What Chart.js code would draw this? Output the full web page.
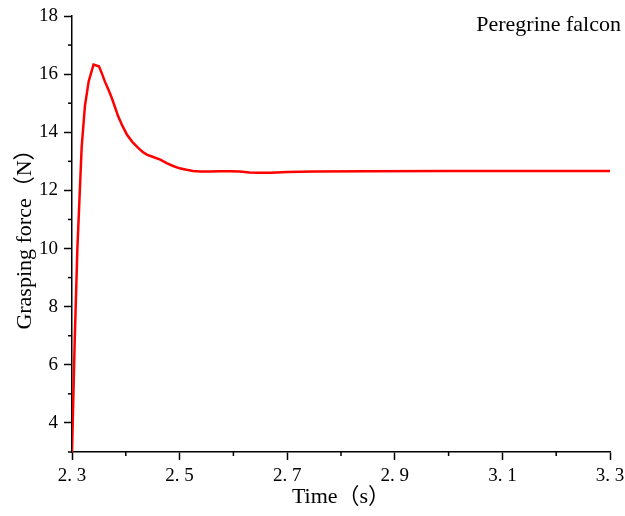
<!DOCTYPE html>
<html>
<head>
<meta charset="utf-8">
<script src="https://cdn.jsdelivr.net/npm/chart.js@4/dist/chart.umd.min.js"></script>
<style>
  html, body { margin: 0; padding: 0; background: #fff; }
  #wrap { width: 625px; height: 516px; position: relative; }
</style>
</head>
<body>
<div id="wrap"><canvas id="c"></canvas></div>
<script>
// ---- data ----
const timeValues = [2.300, 2.305, 2.310, 2.318, 2.324, 2.331, 2.340, 2.350, 2.355, 2.361, 2.368, 2.374, 2.380, 2.386, 2.394, 2.402, 2.412, 2.423, 2.431, 2.439, 2.451, 2.464, 2.476, 2.488, 2.500, 2.513, 2.525, 2.538, 2.556, 2.575, 2.593, 2.612, 2.630, 2.645, 2.670, 2.700, 2.750, 2.850, 3.000, 3.150, 3.300];
const forceValues = [3.0, 6.8, 10.0, 13.5, 14.9, 15.75, 16.33, 16.27, 16.05, 15.75, 15.45, 15.18, 14.86, 14.54, 14.21, 13.92, 13.67, 13.46, 13.33, 13.23, 13.15, 13.06, 12.94, 12.84, 12.76, 12.71, 12.67, 12.65, 12.65, 12.66, 12.66, 12.65, 12.62, 12.61, 12.61, 12.63, 12.65, 12.66, 12.67, 12.67, 12.67];
const xTickLabels = { '2.3': '2. 3', '2.5': '2. 5', '2.7': '2. 7', '2.9': '2. 9', '3.1': '3. 1', '3.3': '3. 3' };
const yTickLabels = ['4', '6', '8', '10', '12', '14', '16', '18'];
const seriesName = 'Peregrine falcon';
const xTitle = 'Time（s）';
const yTitle = 'Grasping force（N）';

const serif = '"Liberation Serif", "Noto Sans CJK SC", serif';

const points = timeValues.map((t, i) => ({ x: t, y: forceValues[i] }));

const minorTicks = {
  id: 'minorTicks',
  afterDraw(chart) {
    const ctx = chart.ctx;
    const xs = chart.scales.x, ys = chart.scales.y;
    ctx.save();
    ctx.strokeStyle = '#000';
    ctx.lineWidth = 1.5;
    for (let v = 3; v <= 18; v += 1) {
      if (v % 2 === 1) {
        const py = ys.getPixelForValue(v);
        ctx.beginPath(); ctx.moveTo(ys.right - 4, py); ctx.lineTo(ys.right, py); ctx.stroke();
      }
    }
    for (let k = 24; k <= 32; k += 2) {
      const px = xs.getPixelForValue(k / 10);
      ctx.beginPath(); ctx.moveTo(px, xs.top); ctx.lineTo(px, xs.top + 4); ctx.stroke();
    }
    // series label
    ctx.fillStyle = '#000';
    ctx.font = '22px ' + serif;
    ctx.textAlign = 'right';
    ctx.textBaseline = 'middle';
    ctx.fillText(seriesName, 621, 25);
    ctx.restore();
  }
};

new Chart(document.getElementById('c'), {
  type: 'line',
  data: {
    datasets: [{
      label: seriesName,
      data: points,
      borderColor: 'rgb(255,0,0)',
      borderWidth: 2.5,
      pointRadius: 0,
      tension: 0,
      fill: false
    }]
  },
  options: {
    responsive: true,
    maintainAspectRatio: false,
    animation: false,
    layout: { padding: { left: 0, right: 15, top: 16, bottom: 0 } },
    plugins: { legend: { display: false }, tooltip: { enabled: false } },
    scales: {
      x: {
        type: 'linear',
        min: 2.3, max: 3.3,
        afterFit(s) { s.height = 64; s.paddingRight = 0; s.paddingLeft = 0; },
        afterBuildTicks(s) {
          const t = [];
          for (let k = 23; k <= 33; k += 2) t.push({ value: k / 10 });
          s.ticks = t;
        },
        ticks: {
          color: '#000',
          font: { family: serif, size: 19 },
          padding: 5,
          maxRotation: 0,
          autoSkip: false,
          callback: (v) => xTickLabels[v.toFixed(1)] || ''
        },
        grid: { display: true, drawOnChartArea: false, drawTicks: true, tickLength: 8, tickColor: '#000', tickWidth: 1.5 },
        border: { display: true, color: '#000', width: 1.5 },
        title: { display: true, text: xTitle, color: '#000', font: { family: serif, size: 22 }, padding: { top: 0, bottom: 6 } }
      },
      y: {
        type: 'linear',
        min: 3, max: 18,
        afterFit(s) { s.width = 72; s.paddingTop = 0; s.paddingBottom = 0; },
        afterBuildTicks(s) {
          s.ticks = yTickLabels.map(l => ({ value: Number(l) }));
        },
        ticks: {
          color: '#000',
          font: { family: serif, size: 19 },
          padding: 6,
          autoSkip: false,
          callback: (v) => String(v)
        },
        grid: { display: true, drawOnChartArea: false, drawTicks: true, tickLength: 8, tickColor: '#000', tickWidth: 1.5 },
        border: { display: true, color: '#000', width: 1.5 },
        title: { display: true, text: yTitle, color: '#000', font: { family: serif, size: 22 }, padding: { top: 12, bottom: 6 } }
      }
    }
  },
  plugins: [minorTicks]
});
</script>
</body>
</html>
